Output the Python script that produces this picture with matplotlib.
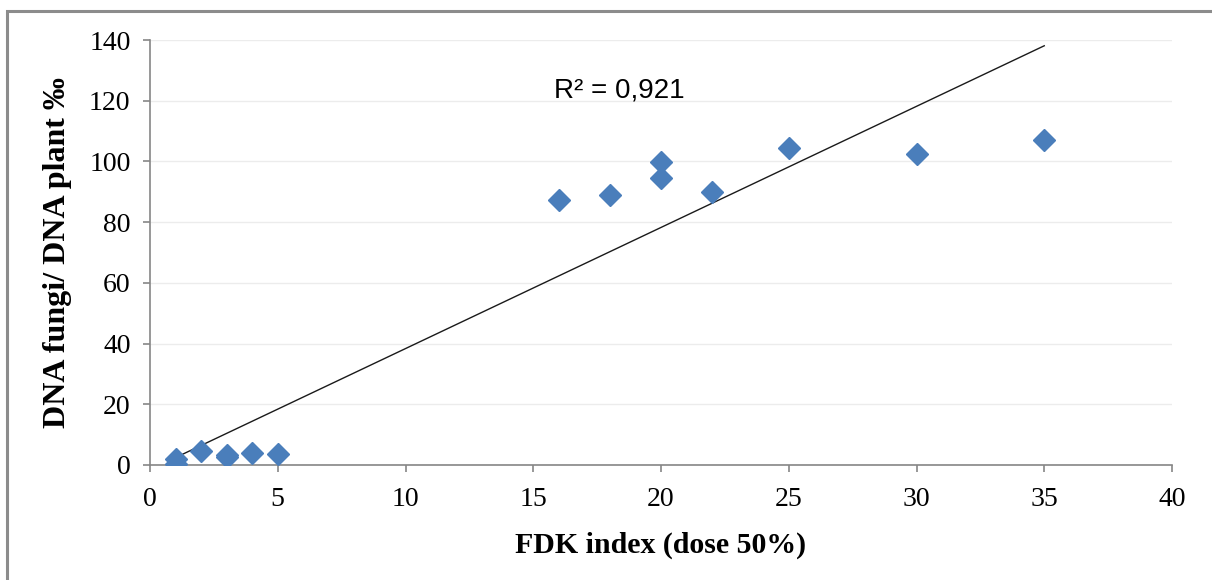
import numpy as np
import matplotlib.pyplot as plt
from matplotlib.patches import Rectangle

# FDK index vs fungal DNA ratio
fdk = [1, 1, 2, 3, 3, 4, 5, 16, 18, 20, 20, 22, 25, 30, 35]
dna_ratio = [2.0, 0.3, 4.6, 2.6, 3.4, 4.0, 3.6, 87.3, 88.9, 99.8, 94.5, 89.9, 104.4, 102.4, 107.0]
r2_label = "R² = 0,921"

fig = plt.figure(figsize=(12.12, 5.8), dpi=100, facecolor='white')
ax = fig.add_axes([150/1212, 1-465/580, (1172-150)/1212, (465-40)/580])

# figure frame (only top/left visible in the original crop)
fig.patches.append(Rectangle((7/1212, -0.2), 1.2, 1-11/580+0.2, transform=fig.transFigure,
                             fill=False, edgecolor='#8c8c8c', linewidth=2.2))

ax.grid(axis='y', color='#ececec', linewidth=1)
ax.set_axisbelow(True)

coef = np.polyfit(fdk, dna_ratio, 1)
xs = np.array([min(fdk), max(fdk)])
ax.plot(xs, np.polyval(coef, xs), color='#1a1a1a', linewidth=1.0, zorder=3)

ax.plot(fdk, dna_ratio, linestyle='none', marker='D', markersize=11,
        color='#4a7ebb', markeredgecolor='#4a7ebb', zorder=4)

ax.text(18.35, 121, r2_label, ha='center', va='baseline',
        fontsize=20, family='Liberation Sans', color='black')

ax.set_xlim(0, 40)
ax.set_ylim(0, 140)
ax.set_xticks(range(0, 41, 5))
ax.set_yticks(range(0, 141, 20))

for s in ['top', 'right']:
    ax.spines[s].set_visible(False)
for s in ['left', 'bottom']:
    ax.spines[s].set_color('#868686')
    ax.spines[s].set_linewidth(1.2)

ax.tick_params(axis='both', direction='out', length=5, width=1.2, color='#868686',
               labelsize=20)
ax.tick_params(axis='x', pad=11)
ax.tick_params(axis='y', pad=9)
for lab in ax.get_xticklabels() + ax.get_yticklabels():
    lab.set_family('Liberation Serif')

ax.set_xlabel("FDK index (dose 50%)", family='Liberation Serif', fontweight='bold',
              fontsize=21.5, labelpad=14)
ax.set_ylabel("DNA fungi/ DNA plant ‰", family='Liberation Serif', fontweight='bold',
              fontsize=23, labelpad=12)

fig.savefig('out.png', dpi=100)
